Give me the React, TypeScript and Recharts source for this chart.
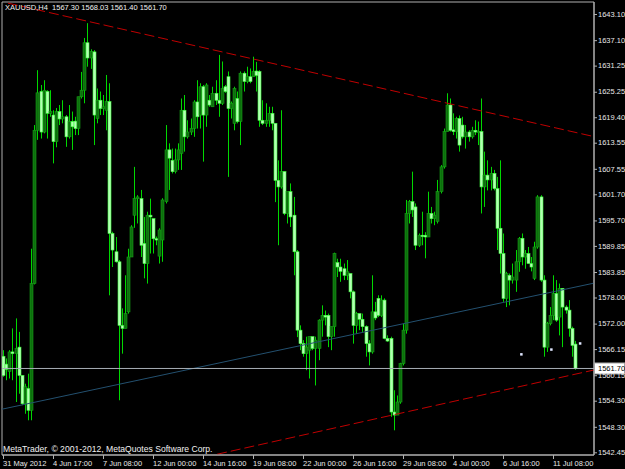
import React from 'react';
import { ComposedChart, Bar, Scatter, XAxis, YAxis, ReferenceLine, ReferenceArea } from 'recharts';

// XAUUSD H4 candles, 31 May 2012 - 11 Jul 2012
const opens = [
  1564.5, 1562.7, 1561.0, 1565.5, 1565.1, 1566.6, 1560.1, 1553.6, 1557.1, 1552.1,
  1581.2, 1616.4, 1625.3, 1616.0, 1625.3, 1620.3, 1619.9, 1613.8, 1620.7, 1619.0,
  1619.5, 1614.9, 1618.4, 1618.5, 1616.8, 1624.1, 1625.6, 1636.5, 1633.0, 1634.4,
  1619.1, 1623.3, 1621.4, 1621.0, 1623.0, 1592.7, 1588.5, 1586.2, 1571.6, 1570.9,
  1574.7, 1587.3, 1596.9, 1600.7, 1600.7, 1590.4, 1585.8, 1596.9, 1596.1, 1591.5,
  1587.5, 1591.2, 1600.0, 1611.9, 1609.5, 1606.9, 1609.6, 1611.1, 1621.0, 1614.9,
  1616.0, 1616.8, 1622.9, 1619.9, 1626.4, 1619.9, 1623.3, 1621.8, 1624.9, 1623.3,
  1622.6, 1626.4, 1628.7, 1621.4, 1618.0, 1623.7, 1618.4, 1629.5, 1627.6, 1628.7,
  1628.7, 1630.0, 1629.9, 1618.7, 1618.0, 1618.7, 1620.3, 1618.0, 1604.9, 1603.4,
  1606.9, 1597.3, 1602.3, 1596.9, 1588.5, 1570.5, 1567.4, 1565.1, 1565.9, 1569.0,
  1566.3, 1566.3, 1572.8, 1573.9, 1573.9, 1569.0, 1571.3, 1586.0, 1585.0, 1584.6,
  1583.1, 1583.5, 1579.3, 1571.6, 1574.3, 1573.0, 1571.3, 1567.4, 1565.5, 1574.7,
  1577.8, 1573.9, 1577.4, 1568.6, 1568.6, 1551.7, 1551.0, 1554.0, 1562.8, 1570.5,
  1597.3, 1600.0, 1598.8, 1590.0, 1592.3, 1592.3, 1591.9, 1597.3, 1596.1, 1595.5,
  1602.3, 1608.0, 1616.1, 1622.2, 1616.5, 1616.1, 1619.1, 1617.6, 1614.9, 1616.0,
  1614.9, 1616.4, 1616.0, 1616.1, 1603.4, 1606.1, 1605.0, 1606.5, 1603.0, 1593.9,
  1588.1, 1577.8, 1583.1, 1582.0, 1582.0, 1586.2, 1591.6, 1587.3, 1588.1, 1585.8,
  1582.4, 1589.6, 1601.1, 1582.0, 1566.6, 1572.0, 1573.9, 1578.9, 1573.5, 1580.1,
  1575.8, 1575.1, 1570.9, 1567.3,
];
const highs = [
  1565.9, 1564.0, 1565.9, 1570.9, 1573.2, 1570.1, 1560.1, 1558.2, 1560.5, 1589.2,
  1617.6, 1630.2, 1626.8, 1627.9, 1625.6, 1625.6, 1621.0, 1621.5, 1622.2, 1623.3,
  1619.9, 1622.2, 1620.7, 1619.5, 1624.1, 1629.8, 1637.6, 1641.0, 1635.0, 1634.8,
  1626.0, 1625.3, 1624.5, 1629.1, 1627.2, 1593.1, 1591.9, 1586.6, 1575.5, 1583.1,
  1589.2, 1594.6, 1608.0, 1601.5, 1602.7, 1596.5, 1597.7, 1600.7, 1596.1, 1592.0,
  1593.9, 1600.8, 1617.6, 1613.4, 1612.2, 1612.2, 1613.4, 1623.7, 1624.5, 1618.7,
  1619.1, 1623.3, 1627.9, 1627.2, 1626.8, 1627.2, 1624.5, 1626.4, 1627.9, 1633.7,
  1632.2, 1626.8, 1629.9, 1623.0, 1626.4, 1625.3, 1629.9, 1629.9, 1631.0, 1630.6,
  1633.3, 1632.1, 1630.2, 1623.3, 1622.6, 1621.8, 1621.8, 1618.0, 1609.5, 1621.0,
  1607.0, 1602.3, 1604.2, 1601.1, 1588.9, 1571.6, 1568.2, 1569.0, 1569.0, 1569.0,
  1569.0, 1573.0, 1576.2, 1575.0, 1574.3, 1571.3, 1588.3, 1586.9, 1586.9, 1585.8,
  1586.6, 1583.5, 1579.6, 1574.7, 1574.3, 1574.3, 1571.6, 1568.2, 1583.1, 1577.0,
  1578.5, 1578.5, 1577.8, 1569.3, 1569.0, 1556.7, 1555.5, 1563.0, 1572.0, 1600.4,
  1600.4, 1606.9, 1599.6, 1592.7, 1597.7, 1593.0, 1602.3, 1598.8, 1597.7, 1605.0,
  1608.4, 1616.8, 1624.9, 1623.7, 1620.3, 1619.5, 1619.8, 1619.5, 1617.6, 1616.4,
  1617.2, 1618.7, 1618.4, 1623.7, 1611.5, 1609.5, 1608.0, 1607.3, 1605.7, 1609.5,
  1592.7, 1583.9, 1583.5, 1585.8, 1588.9, 1591.9, 1592.7, 1588.9, 1589.6, 1587.3,
  1590.8, 1601.5, 1601.5, 1583.1, 1572.4, 1575.8, 1583.1, 1582.0, 1581.2, 1580.1,
  1576.2, 1577.4, 1571.3, 1568.03,
];
const lows = [
  1559.8, 1559.0, 1559.4, 1559.0, 1554.0, 1555.9, 1553.3, 1551.3, 1549.8, 1549.8,
  1581.0, 1614.2, 1614.5, 1615.7, 1614.5, 1619.5, 1608.8, 1612.5, 1617.6, 1618.0,
  1612.6, 1614.5, 1611.9, 1615.3, 1615.3, 1623.7, 1622.6, 1631.0, 1630.5, 1613.0,
  1618.0, 1619.9, 1619.9, 1616.4, 1578.5, 1585.0, 1586.0, 1554.4, 1565.1, 1570.9,
  1574.3, 1587.3, 1594.0, 1595.0, 1587.3, 1582.4, 1581.2, 1588.1, 1588.1, 1590.0,
  1585.8, 1586.2, 1599.6, 1602.7, 1606.5, 1606.5, 1607.3, 1607.3, 1611.5, 1614.5,
  1615.3, 1614.9, 1616.8, 1616.8, 1609.2, 1617.2, 1621.8, 1621.8, 1622.2, 1619.5,
  1622.2, 1625.0, 1605.7, 1619.1, 1616.4, 1618.0, 1613.0, 1625.3, 1627.2, 1627.2,
  1628.7, 1625.3, 1617.2, 1617.6, 1617.2, 1617.2, 1616.4, 1599.9, 1590.0, 1603.0,
  1596.9, 1595.0, 1594.2, 1583.1, 1568.9, 1565.9, 1564.4, 1561.3, 1559.4, 1565.9,
  1557.8, 1563.6, 1569.0, 1571.6, 1566.6, 1565.9, 1569.0, 1582.7, 1581.6, 1582.0,
  1582.0, 1577.8, 1567.4, 1569.7, 1570.5, 1570.1, 1564.4, 1562.4, 1565.1, 1572.8,
  1573.5, 1573.5, 1568.4, 1567.8, 1550.6, 1547.5, 1551.0, 1553.6, 1562.4, 1569.7,
  1595.0, 1596.5, 1588.9, 1589.6, 1590.0, 1587.0, 1591.9, 1595.0, 1594.6, 1595.0,
  1601.9, 1607.6, 1616.1, 1616.1, 1615.3, 1614.5, 1611.5, 1614.5, 1612.2, 1613.8,
  1614.5, 1615.3, 1613.0, 1597.3, 1598.8, 1602.6, 1602.6, 1602.6, 1588.9, 1583.5,
  1577.0, 1575.8, 1576.2, 1581.2, 1579.3, 1583.9, 1585.4, 1584.6, 1585.8, 1584.0,
  1582.0, 1589.2, 1581.6, 1564.4, 1565.5, 1571.6, 1572.8, 1572.4, 1569.3, 1566.6,
  1574.3, 1569.0, 1564.4, 1561.4,
];
const closes = [
  1560.1, 1561.5, 1565.5, 1565.1, 1566.3, 1560.1, 1553.6, 1557.5, 1552.1, 1581.2,
  1616.4, 1625.0, 1616.0, 1625.6, 1620.3, 1620.7, 1613.8, 1620.7, 1619.0, 1619.5,
  1614.9, 1618.4, 1617.2, 1616.8, 1624.1, 1625.6, 1636.5, 1633.0, 1634.5, 1619.9,
  1623.3, 1621.4, 1621.8, 1623.0, 1592.7, 1588.9, 1586.2, 1571.6, 1570.9, 1574.3,
  1587.3, 1594.2, 1600.7, 1601.1, 1590.0, 1585.8, 1596.9, 1596.5, 1591.5, 1591.2,
  1593.5, 1600.4, 1611.9, 1610.0, 1606.9, 1609.6, 1611.9, 1621.0, 1614.9, 1616.0,
  1616.8, 1622.9, 1619.5, 1626.4, 1619.9, 1626.8, 1622.2, 1624.9, 1623.3, 1622.6,
  1626.0, 1625.3, 1621.4, 1622.6, 1626.0, 1618.4, 1629.5, 1627.6, 1628.7, 1627.6,
  1629.9, 1629.0, 1618.7, 1618.0, 1618.7, 1620.3, 1618.0, 1604.9, 1603.4, 1606.9,
  1597.3, 1602.3, 1596.5, 1588.5, 1570.5, 1567.4, 1565.1, 1566.6, 1569.0, 1566.3,
  1568.2, 1572.8, 1573.9, 1573.5, 1569.0, 1571.3, 1588.1, 1585.0, 1584.0, 1583.1,
  1583.9, 1579.3, 1571.6, 1574.3, 1573.0, 1571.3, 1567.4, 1565.5, 1574.7, 1573.3,
  1573.9, 1577.4, 1568.6, 1568.0, 1551.7, 1551.0, 1554.0, 1562.8, 1570.5, 1597.3,
  1600.0, 1598.1, 1590.0, 1592.3, 1592.0, 1591.9, 1597.3, 1596.1, 1596.9, 1602.3,
  1608.0, 1616.1, 1622.2, 1616.4, 1616.1, 1619.1, 1613.0, 1614.9, 1616.0, 1614.9,
  1616.4, 1616.0, 1616.1, 1603.4, 1606.1, 1605.0, 1606.5, 1603.0, 1593.9, 1588.1,
  1577.8, 1583.5, 1582.0, 1582.7, 1586.2, 1591.6, 1587.3, 1588.1, 1585.8, 1585.0,
  1589.6, 1601.1, 1582.0, 1566.6, 1572.0, 1573.9, 1578.9, 1572.8, 1580.1, 1575.8,
  1575.1, 1570.9, 1567.0, 1561.7,
];

// bar index of each time label (one label every 16 bars)
const timeTicks = [0, 16, 32, 48, 64, 80, 96, 112, 128, 144, 160, 176];
const timeLabels = [
  '31 May 2012', '4 Jun 17:00', '7 Jun 08:00', '12 Jun 00:00', '14 Jun 16:00', '19 Jun 08:00',
  '22 Jun 00:00', '26 Jun 16:00', '29 Jun 08:00', '4 Jul 00:00', '6 Jul 16:00', '11 Jul 08:00',
];
const priceTicks = [
  1643.10, 1637.10, 1631.25, 1625.25, 1619.40, 1613.55, 1607.55, 1601.70, 1595.70,
  1589.85, 1583.85, 1578.00, 1572.00, 1566.15, 1560.15, 1554.30, 1548.30, 1542.45,
];

// trendline anchors: [barIndex, price]
const upperTrend = [[1.6, 1645.6], [189.1, 1614.95]];
const lowerTrend = [[68.5, 1542.0], [189.1, 1561.35]];
const blueLine = [[-0.32, 1552.35], [189.1, 1581.3]];
const markerBars = [165.8, 175.4, 184.6];
const markerPrices = [1565.0, 1566.1, 1567.5];

const lastClose = closes[closes.length - 1];
const X_DOMAIN: [number, number] = [-0.32, 189.12];
const Y_DOMAIN: [number, number] = [1541.83, 1645.86];
const FONT = '"Liberation Sans", Arial, sans-serif';

const candles = opens.map((o, i) => ({
  i,
  range: [lows[i], highs[i]],
  open: o,
  high: highs[i],
  low: lows[i],
  close: closes[i],
}));
const markers = markerBars.map((b, k) => ({ i: b, p: markerPrices[k] }));

const Candle = (props: any) => {
  const { x, y, width, height, payload } = props;
  if (x == null || y == null || !payload) return null;
  const top = Math.min(y, y + height);
  const h = Math.abs(height);
  const { open, close, high, low } = payload;
  const span = high - low;
  const py = (v: number) => (span > 0 ? top + ((high - v) / span) * h : top);
  const cx = Math.round(x + width / 2) + 0.5;
  const bTop = py(Math.max(open, close));
  const bBot = py(Math.min(open, close));
  const bull = close >= open;
  return (
    <g>
      <line x1={cx} x2={cx} y1={top} y2={top + Math.max(h, 1)} stroke="#00d800" strokeWidth={1} />
      <rect
        x={cx - 1.5}
        y={bTop}
        width={3}
        height={Math.max(bBot - bTop, 1)}
        fill={bull ? '#0d6e0d' : '#b4ffb4'}
        stroke={bull ? '#16a016' : '#3cff3c'}
        strokeWidth={0.6}
      />
    </g>
  );
};

const TimeTick = (props: any) => {
  const { x, y, payload } = props;
  const idx = timeTicks.indexOf(payload.value);
  return (
    <g>
      <line x1={x + 0.5} x2={x + 0.5} y1={y} y2={y + 4} stroke="#b0b0b0" />
      <text x={x} y={y + 10.5} fill="#e8e8e8" fontSize={7.5} fontFamily={FONT} textAnchor="start">
        {timeLabels[idx]}
      </text>
    </g>
  );
};

const PriceTick = (props: any) => {
  const { x, y, payload } = props;
  return (
    <g>
      <line x1={x} x2={x + 3} y1={y + 0.5} y2={y + 0.5} stroke="#b0b0b0" />
      <text x={x + 4} y={y + 2.7} fill="#e8e8e8" fontSize={7.5} fontFamily={FONT} textAnchor="start">
        {Number(payload.value).toFixed(2)}
      </text>
    </g>
  );
};

const CloseLabel = (props: any) => {
  const vb = props.viewBox || {};
  const lx = vb.x + vb.width;
  const ly = vb.y;
  return (
    <g>
      <rect x={lx + 0.5} y={ly - 5.5} width={30} height={11} fill="#ffffff" stroke="#a0a0a0" />
      <text x={lx + 4} y={ly + 2.7} fill="#000" fontSize={7.5} fontFamily={FONT}>
        {lastClose.toFixed(2)}
      </text>
    </g>
  );
};

const Marker = (props: any) => {
  const { cx, cy } = props;
  if (cx == null) return null;
  return <rect x={cx - 1} y={cy - 1} width={2.5} height={2.5} fill="#dfe6ff" />;
};

const seg = (pts: number[][]) => pts.map(([i, p]) => ({ x: i, y: p }));

export default function App() {
  return (
    <div style={{ position: 'absolute', left: 0, top: 0, width: 625, height: 469, background: '#000', overflow: 'hidden' }}>
      <ComposedChart
        width={625}
        height={469}
        data={candles}
        margin={{ top: 2, right: 0, bottom: 0, left: 2 }}
        style={{ background: '#000' }}
      >
        <XAxis
          type="number"
          dataKey="i"
          domain={X_DOMAIN}
          allowDataOverflow
          ticks={timeTicks}
          interval={0}
          height={14}
          tickSize={0}
          tickMargin={0}
          tickLine={false}
          axisLine={{ stroke: '#b0b0b0' }}
          tick={<TimeTick />}
        />
        <YAxis
          orientation="right"
          type="number"
          domain={Y_DOMAIN}
          allowDataOverflow
          ticks={priceTicks}
          interval={0}
          width={31}
          tickSize={0}
          tickMargin={0}
          tickLine={false}
          axisLine={{ stroke: '#b0b0b0' }}
          tick={<PriceTick />}
        />
        <ReferenceArea
          x1={X_DOMAIN[0]}
          x2={X_DOMAIN[1]}
          y1={Y_DOMAIN[0]}
          y2={Y_DOMAIN[1]}
          fill="none"
          stroke="#b0b0b0"
          ifOverflow="visible"
        />
        <ReferenceLine segment={seg(blueLine)} stroke="#23506f" strokeWidth={1} ifOverflow="hidden" />
        <Bar dataKey="range" shape={<Candle />} isAnimationActive={false} />
        <ReferenceLine y={lastClose} stroke="#a6adb4" strokeWidth={1} label={<CloseLabel />} />
        <ReferenceLine segment={seg(upperTrend)} stroke="#c00000" strokeDasharray="10 4" ifOverflow="hidden" />
        <ReferenceLine segment={seg(lowerTrend)} stroke="#c00000" strokeDasharray="10 4" ifOverflow="hidden" />
        <Scatter data={markers} dataKey="p" shape={<Marker />} isAnimationActive={false} />
      </ComposedChart>
      <div style={{ position: 'absolute', left: 5, top: 3, color: '#f0f0f0', fontFamily: FONT, fontSize: 7.5, lineHeight: '9px', whiteSpace: 'nowrap' }}>
        XAUUSD,H4&nbsp; 1567.30 1568.03 1561.40 1561.70
      </div>
      <div style={{ position: 'absolute', left: 3, top: 444, color: '#f0f0f0', fontFamily: FONT, fontSize: 8.6, lineHeight: '10px', whiteSpace: 'nowrap' }}>
        MetaTrader, © 2001-2012, MetaQuotes Software Corp.
      </div>
    </div>
  );
}
